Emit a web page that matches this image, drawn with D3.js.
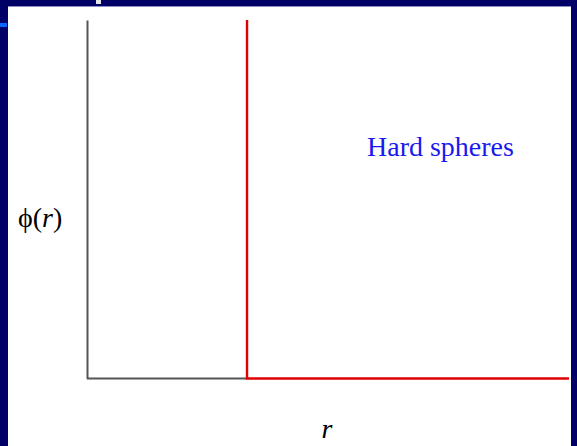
<!DOCTYPE html>
<html>
<head>
<meta charset="utf-8">
<script src="https://cdn.jsdelivr.net/npm/d3@7"></script>
<style>
  html, body { margin: 0; padding: 0; background: #fff; }
  svg { display: block; }
</style>
</head>
<body>
<svg id="chart" width="577" height="446"></svg>
<script>
// Hard-sphere pair potential: infinite wall at r = sigma, zero beyond.
const sigma = 0.332;
const rMax = 1.0;
const wallR = [sigma, sigma, rMax];     // r values along the potential curve
const wallPhi = [1.0, 0, 0];            // phi(r), with 1.0 standing for the clipped "infinite" wall
const axisR = [0, sigma];               // segment of the r axis left of the wall
const axisPhi = [0, 0];

const W = 577, H = 446;
const svg = d3.select("#chart");

// Slide frame
svg.append("rect").attr("x", 0).attr("y", 0).attr("width", W).attr("height", H).attr("fill", "#000066");
svg.append("rect").attr("x", 8).attr("y", 6).attr("width", 563).attr("height", H - 6).attr("fill", "#ffffff");
svg.append("rect").attr("x", 8).attr("y", 6).attr("width", 563).attr("height", 1).attr("fill", "#8c8cc4");
svg.append("rect").attr("x", 96).attr("y", 0).attr("width", 5).attr("height", 4).attr("fill", "#e4e4e4");
svg.append("rect").attr("x", 0).attr("y", 23).attr("width", 7).attr("height", 4).attr("fill", "#0a64ff");

const x = d3.scaleLinear().domain([0, rMax]).range([87, 569]);
const y = d3.scaleLinear().domain([0, 1]).range([378.5, 20]);

// Axes without ticks
svg.append("g")
  .attr("transform", `translate(${x(0)},0)`)
  .call(d3.axisLeft(y).tickValues([]).tickSizeOuter(0))
  .call(g => g.select(".domain").attr("stroke", "#555").attr("stroke-width", 2));

const line = d3.line().x(d => x(d[0])).y(d => y(d[1]));

svg.append("path")
  .datum(d3.zip(axisR, axisPhi))
  .attr("d", line)
  .attr("fill", "none")
  .attr("stroke", "#555")
  .attr("stroke-width", 2);

svg.append("path")
  .datum(d3.zip(wallR, wallPhi))
  .attr("d", line)
  .attr("fill", "none")
  .attr("stroke", "#e00000")
  .attr("stroke-width", 2.4);

// Labels
const serif = "'Liberation Serif', 'Times New Roman', serif";
const yl = svg.append("text")
  .attr("x", 18).attr("y", 227)
  .attr("font-family", serif).attr("font-size", 28).attr("fill", "#000");
yl.append("tspan").text("ϕ(");
yl.append("tspan").attr("font-style", "italic").text("r");
yl.append("tspan").text(")");

svg.append("text")
  .attr("x", 327).attr("y", 438)
  .attr("text-anchor", "middle")
  .attr("font-family", serif).attr("font-size", 28).attr("font-style", "italic")
  .attr("fill", "#000")
  .text("r");

svg.append("text")
  .attr("x", 367).attr("y", 156)
  .attr("font-family", serif).attr("font-size", 28).attr("fill", "#1a1aee")
  .text("Hard spheres");
</script>
</body>
</html>
